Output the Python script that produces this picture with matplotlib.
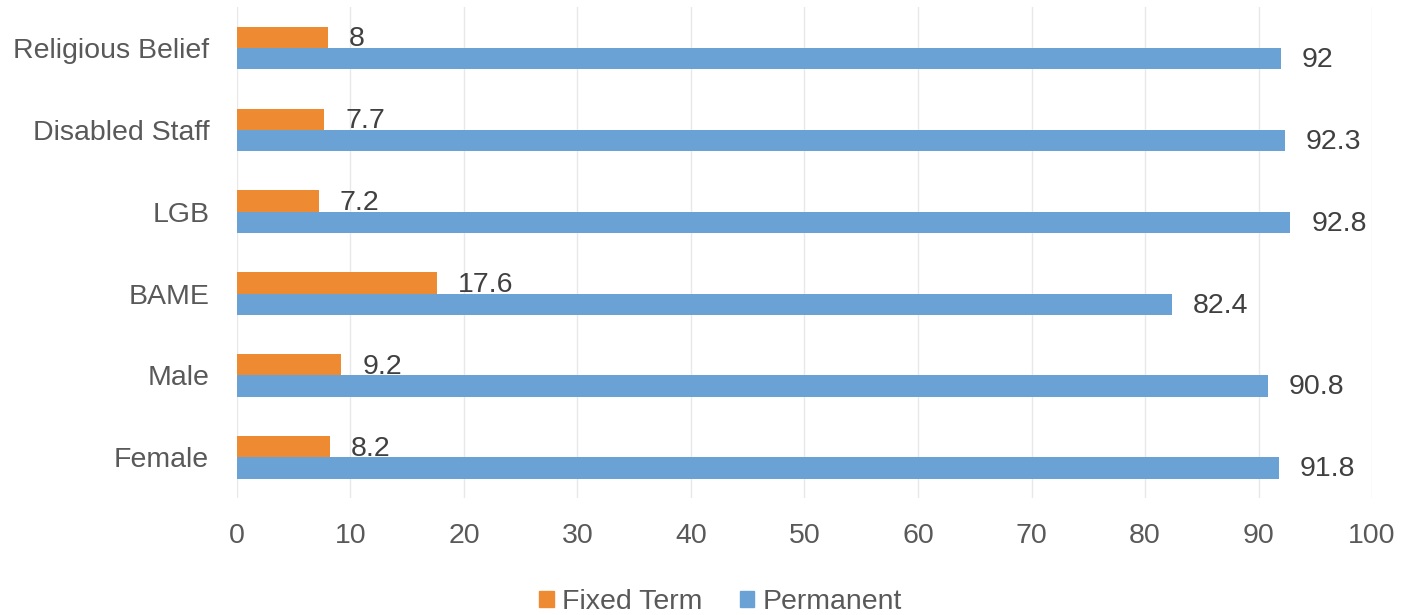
import matplotlib.pyplot as plt
import numpy as np
from matplotlib.patches import Patch

# --- Adatok ---
categories = ["Religious Belief", "Disabled Staff", "LGB", "BAME", "Male", "Female"]
fixed_term = [8, 7.7, 7.2, 17.6, 9.2, 8.2]
permanent = [92, 92.3, 92.8, 82.4, 90.8, 91.8]
x_ticks = [0, 10, 20, 30, 40, 50, 60, 70, 80, 90, 100]

ORANGE = "#EE8A32"
BLUE = "#6AA2D6"
GREY_TXT = "#595959"
DARK_TXT = "#404040"
FS = 20.5

plt.rcParams["font.family"] = ["Liberation Sans", "DejaVu Sans"]

fig = plt.figure(figsize=(14.13, 6.15), dpi=100)
ax = fig.add_axes([0.1677, 0.190, 0.8033, 0.7986])

y = np.arange(len(categories))
h = 0.26
bars_f = ax.barh(y - h / 2, fixed_term, height=h, color=ORANGE, zorder=3)
bars_p = ax.barh(y + h / 2, permanent, height=h, color=BLUE, zorder=3)

# Értékcímkék
for bars, vals, dy in ((bars_f, fixed_term, -1.5), (bars_p, permanent, -1)):
    for b, v in zip(bars, vals):
        ax.annotate(f"{v:g}", xy=(b.get_width(), b.get_y() + b.get_height() / 2),
                    xytext=(15, dy), textcoords="offset points",
                    ha="left", va="center", fontsize=FS, color=DARK_TXT, zorder=4)

ax.set_xlim(0, 100)
ax.set_ylim(len(categories) - 0.5, -0.5)
ax.set_xticks(x_ticks)
ax.set_yticks(y)
ax.set_yticklabels(categories)
ax.tick_params(axis="x", length=0, pad=18, labelsize=FS, labelcolor=GREY_TXT)
ax.tick_params(axis="y", length=0, pad=20, labelsize=FS, labelcolor=GREY_TXT)
ax.grid(axis="x", color="#E8E8E8", linewidth=1.0, zorder=0)
ax.set_axisbelow(True)
for s in ax.spines.values():
    s.set_visible(False)

handles = [Patch(color=ORANGE, label="Fixed Term"), Patch(color=BLUE, label="Permanent")]
fig.legend(handles=handles, loc="center", bbox_to_anchor=(0.51, 0.021), ncol=2,
           frameon=False, fontsize=FS, handlelength=0.5, handleheight=0.5,
           handletextpad=0.3, columnspacing=1.3, labelcolor=GREY_TXT)

fig.savefig("out.png", dpi=100)
